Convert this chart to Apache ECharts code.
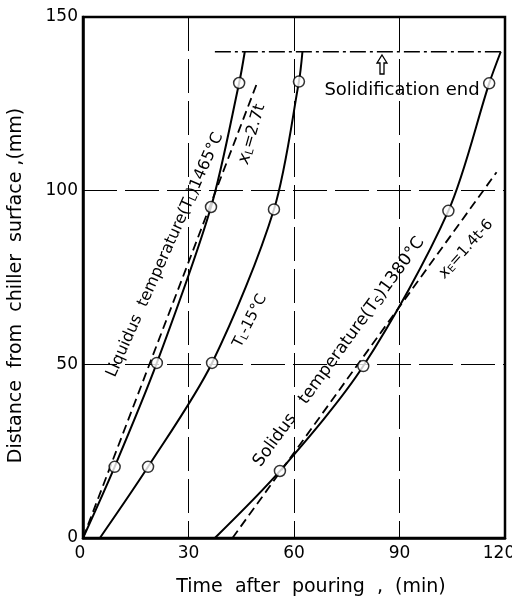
<!DOCTYPE html>
<html>
<head>
<meta charset="utf-8">
<script src="https://cdn.jsdelivr.net/npm/echarts@6/dist/echarts.min.js"></script>
<style>
  html, body { margin: 0; padding: 0; background: #fff; }
  #chart { width: 512px; height: 603px; }
</style>
</head>
<body>
<div id="chart"></div>
<script>
// time after pouring (min) vs distance from chiller surface (mm)
const xTicks = [0, 30, 60, 90, 120]
const yTicks = [0, 50, 100, 150]

// measured points (open circles)
const liquidusPts = [[9, 20.5], [21, 50.4], [36.4, 95.3], [44.4, 131]]
const tl15Pts = [[18.5, 20.5], [36.7, 50.4], [54.3, 94.6], [61.4, 131.4]]
const solidusPts = [[56, 19.3], [79.7, 49.5], [103.9, 94.2], [115.5, 130.9]]

// drawn curves
const liquidusCurve = [[0, 0], [9, 20.5], [21, 50.4], [36.4, 95.3], [44.4, 131], [46, 140]]
const tl15Curve = [[4.8, 0], [18.5, 20.5], [36.7, 50.4], [54.3, 94.6], [61.4, 131.4], [62.4, 140]]
const solidusCurve = [[37.5, 0], [56, 19.3], [79.7, 49.5], [103.9, 94.2], [115.5, 130.9], [118.8, 140]]

// fitted dashed lines
const xLLine = [[0, 0], [49.5, 131]]
const xELine = [[42.5, 0], [117.6, 105.3]]

// solidification end level
const solidEndLine = [[37.5, 140], [119, 140]]

const chart = echarts.init(document.getElementById("chart"))
const FONT = "DejaVu Sans"
const deg = (d) => (d * Math.PI) / 180

const curve = (data) => ({
  type: "line",
  data: data,
  smooth: 0.3,
  showSymbol: false,
  silent: true,
  lineStyle: { color: "#000", width: 2 },
})
const dashed = (data) => ({
  type: "line",
  data: data,
  showSymbol: false,
  silent: true,
  lineStyle: { color: "#000", width: 1.8, type: [9, 5] },
})
const circles = (data) => ({
  type: "scatter",
  data: data,
  symbol: "circle",
  symbolSize: 11,
  silent: true,
  itemStyle: { color: "#fff", borderColor: "#000", borderWidth: 1.5 },
  z: 5,
})

const label = (x, y, rot, text, size) => ({
  type: "text",
  x: x,
  y: y,
  rotation: deg(rot),
  style: {
    text: text,
    fontFamily: FONT,
    fontSize: size,
    fill: "#000",
    align: "center",
    verticalAlign: "middle",
    rich: {
      n: { fontFamily: FONT, fontSize: size },
      s: { fontFamily: FONT, fontSize: Math.round(size * 0.68), verticalAlign: "bottom", padding: [Math.round(size * 0.4), 0, 0, 0] },
      i: { fontFamily: FONT, fontSize: size + 1, fontStyle: "italic" },
    },
  },
  z: 10,
})

const option = {
  animation: false,
  grid: {
    left: 83,
    right: 7,
    top: 17,
    bottom: 65,
    containLabel: false,
    outerBoundsMode: "none",
    show: true,
    borderColor: "#000",
    borderWidth: 2.5,
  },
  xAxis: {
    type: "value",
    min: 0,
    max: 120,
    interval: 30,
    axisLine: { show: true, lineStyle: { color: "#000", width: 2.5 } },
    axisTick: { show: false },
    axisLabel: {
      color: "#000",
      fontFamily: FONT,
      fontSize: 17,
      margin: 7,
      formatter: (v) => {
        if (!xTicks.includes(v)) return ""
        if (v === 120) return "{r|" + v + "}"
        if (v === 0) return "{z|" + v + "}"
        return String(v)
      },
      rich: {
        r: { fontFamily: FONT, fontSize: 17, color: "#000", padding: [0, 12, 0, 0] },
        z: { fontFamily: FONT, fontSize: 17, color: "#000", padding: [0, 6, 0, 0] },
      },
    },
    splitLine: { show: true, lineStyle: { color: "#000", width: 1, type: [34, 8] } },
    name: "Time  after  pouring  ,  (min)",
    nameLocation: "middle",
    nameGap: 40,
    nameTextStyle: { color: "#000", fontFamily: FONT, fontSize: 19, padding: [0, 0, 0, 34] },
  },
  yAxis: {
    type: "value",
    min: 0,
    max: 150,
    interval: 50,
    axisLine: { show: true, lineStyle: { color: "#000", width: 2.5 } },
    axisTick: { show: false },
    axisLabel: {
      color: "#000",
      fontFamily: FONT,
      fontSize: 17,
      margin: 5,
      formatter: (v) => (yTicks.includes(v) ? String(v) : ""),
    },
    splitLine: { show: true, lineStyle: { color: "#000", width: 1, type: [34, 8] } },
    name: "Distance  from  chiller  surface ,(mm)",
    nameLocation: "middle",
    nameGap: 57,
    nameTextStyle: { color: "#000", fontFamily: FONT, fontSize: 19, padding: [0, 16, 0, 0] },
  },
  series: [
    curve(liquidusCurve),
    curve(tl15Curve),
    curve(solidusCurve),
    dashed(xLLine),
    dashed(xELine),
    {
      type: "line",
      data: solidEndLine,
      showSymbol: false,
      silent: true,
      lineStyle: { color: "#000", width: 1.5, type: [16, 4, 3, 4] },
    },
    circles(liquidusPts),
    circles(tl15Pts),
    circles(solidusPts),
  ],
  graphic: [
    label(165, 255, 66, "{n|Liquidus  temperature(T}{s|L}{n|)1465°C}", 16),
    label(252, 134, 74, "{i|x}{s|L}{n|=2.7t}", 16),
    label(250, 321, 63, "{n|T}{s|L}{n|-15°C}", 15),
    label(339, 352, 54, "{n|Solidus   temperature(T}{s|S}{n|)1380°C}", 17),
    label(466, 249, 48, "{i|x}{s|E}{n|=1.4t-6}", 15),
    {
      type: "text",
      x: 402,
      y: 90,
      style: {
        text: "Solidification end",
        fontFamily: FONT,
        fontSize: 18,
        fill: "#000",
        align: "center",
        verticalAlign: "middle",
      },
      z: 10,
    },
    {
      type: "polygon",
      shape: {
        points: [[382, 55], [387, 63], [384, 63], [384, 74], [380, 74], [380, 63], [377, 63]],
      },
      style: { fill: "#fff", stroke: "#000", lineWidth: 1.3 },
      z: 10,
    },
  ],
}

chart.setOption(option)
</script>
</body>
</html>
